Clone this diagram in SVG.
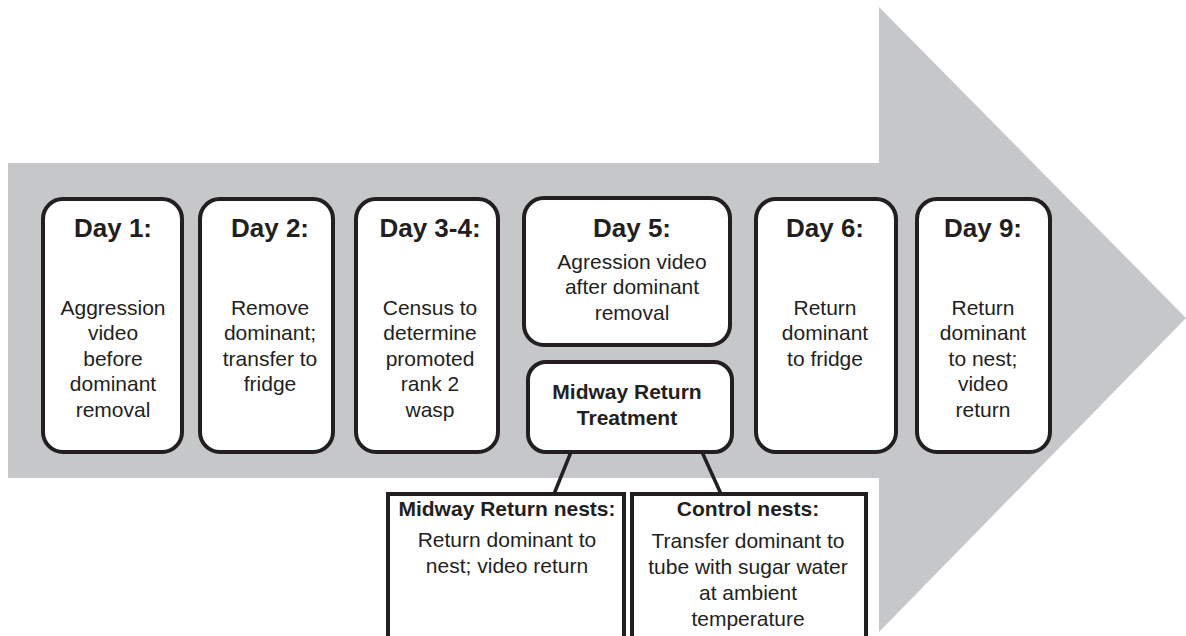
<svg xmlns="http://www.w3.org/2000/svg" width="1186" height="636" viewBox="0 0 1186 636">
<style>
.box{fill:#ffffff;stroke:#231f20;stroke-width:4}
.sq{fill:#ffffff;stroke:#231f20;stroke-width:4}
.hd{font-family:"Liberation Sans",Arial,sans-serif;font-weight:bold;font-size:26px;fill:#231f20;text-anchor:middle}
.sb{font-family:"Liberation Sans",Arial,sans-serif;font-weight:bold;font-size:21px;fill:#231f20;text-anchor:middle}
.tx{font-family:"Liberation Sans",Arial,sans-serif;font-size:21px;fill:#231f20;text-anchor:middle}
.ln{stroke:#231f20;stroke-width:3.5;fill:none}
</style>
<rect width="1186" height="636" fill="#ffffff"/>
<polygon id="arrow" points="8,163 879,163 879,7 1186,318 879,632 879,478 8,478" fill="#c6c7c9"/>
<g id="connectors">
<line class="ln" x1="571" y1="452" x2="554" y2="494"/>
<line class="ln" x1="702" y1="452" x2="721" y2="494"/>
</g>
<g id="day1">
<rect class="box" x="43" y="199" width="139" height="253" rx="20"/>
<text class="hd" x="113" y="237">Day 1:</text>
<text class="tx" x="113" y="315">Aggression</text>
<text class="tx" x="113" y="340">video</text>
<text class="tx" x="113" y="366">before</text>
<text class="tx" x="113" y="391">dominant</text>
<text class="tx" x="113" y="417">removal</text>
</g>
<g id="day2">
<rect class="box" x="200" y="199" width="133" height="253" rx="20"/>
<text class="hd" x="270" y="237">Day 2:</text>
<text class="tx" x="270" y="315">Remove</text>
<text class="tx" x="270" y="340">dominant;</text>
<text class="tx" x="270" y="366">transfer to</text>
<text class="tx" x="270" y="391">fridge</text>
</g>
<g id="day34">
<rect class="box" x="356" y="199" width="142" height="253" rx="20"/>
<text class="hd" x="430" y="237">Day 3-4:</text>
<text class="tx" x="430" y="315">Census to</text>
<text class="tx" x="430" y="340">determine</text>
<text class="tx" x="430" y="366">promoted</text>
<text class="tx" x="430" y="391">rank 2</text>
<text class="tx" x="430" y="417">wasp</text>
</g>
<g id="day5">
<rect class="box" x="524" y="198" width="206" height="147" rx="20"/>
<text class="hd" x="632" y="237">Day 5:</text>
<text class="tx" x="632" y="269">Agression video</text>
<text class="tx" x="632" y="294">after dominant</text>
<text class="tx" x="632" y="320">removal</text>
</g>
<g id="mrt">
<rect class="box" x="528" y="362" width="204" height="90" rx="18"/>
<text class="sb" x="627" y="399">Midway Return</text>
<text class="sb" x="627" y="425">Treatment</text>
</g>
<g id="day6">
<rect class="box" x="756" y="199" width="140" height="253" rx="20"/>
<text class="hd" x="825" y="237">Day 6:</text>
<text class="tx" x="825" y="315">Return</text>
<text class="tx" x="825" y="340">dominant</text>
<text class="tx" x="825" y="366">to fridge</text>
</g>
<g id="day9">
<rect class="box" x="917" y="199" width="133" height="253" rx="20"/>
<text class="hd" x="983" y="237">Day 9:</text>
<text class="tx" x="983" y="315">Return</text>
<text class="tx" x="983" y="340">dominant</text>
<text class="tx" x="983" y="366">to nest;</text>
<text class="tx" x="983" y="391">video</text>
<text class="tx" x="983" y="417">return</text>
</g>
<g id="mrnests">
<rect class="sq" x="388" y="494" width="236" height="150"/>
<text class="sb" x="507" y="516">Midway Return nests:</text>
<text class="tx" x="507" y="547">Return dominant to</text>
<text class="tx" x="507" y="573">nest; video return</text>
</g>
<g id="control">
<rect class="sq" x="632" y="494" width="234" height="150"/>
<text class="sb" x="748" y="516">Control nests:</text>
<text class="tx" x="748" y="548">Transfer dominant to</text>
<text class="tx" x="748" y="574">tube with sugar water</text>
<text class="tx" x="748" y="600">at ambient</text>
<text class="tx" x="748" y="626">temperature</text>
</g>
</svg>
